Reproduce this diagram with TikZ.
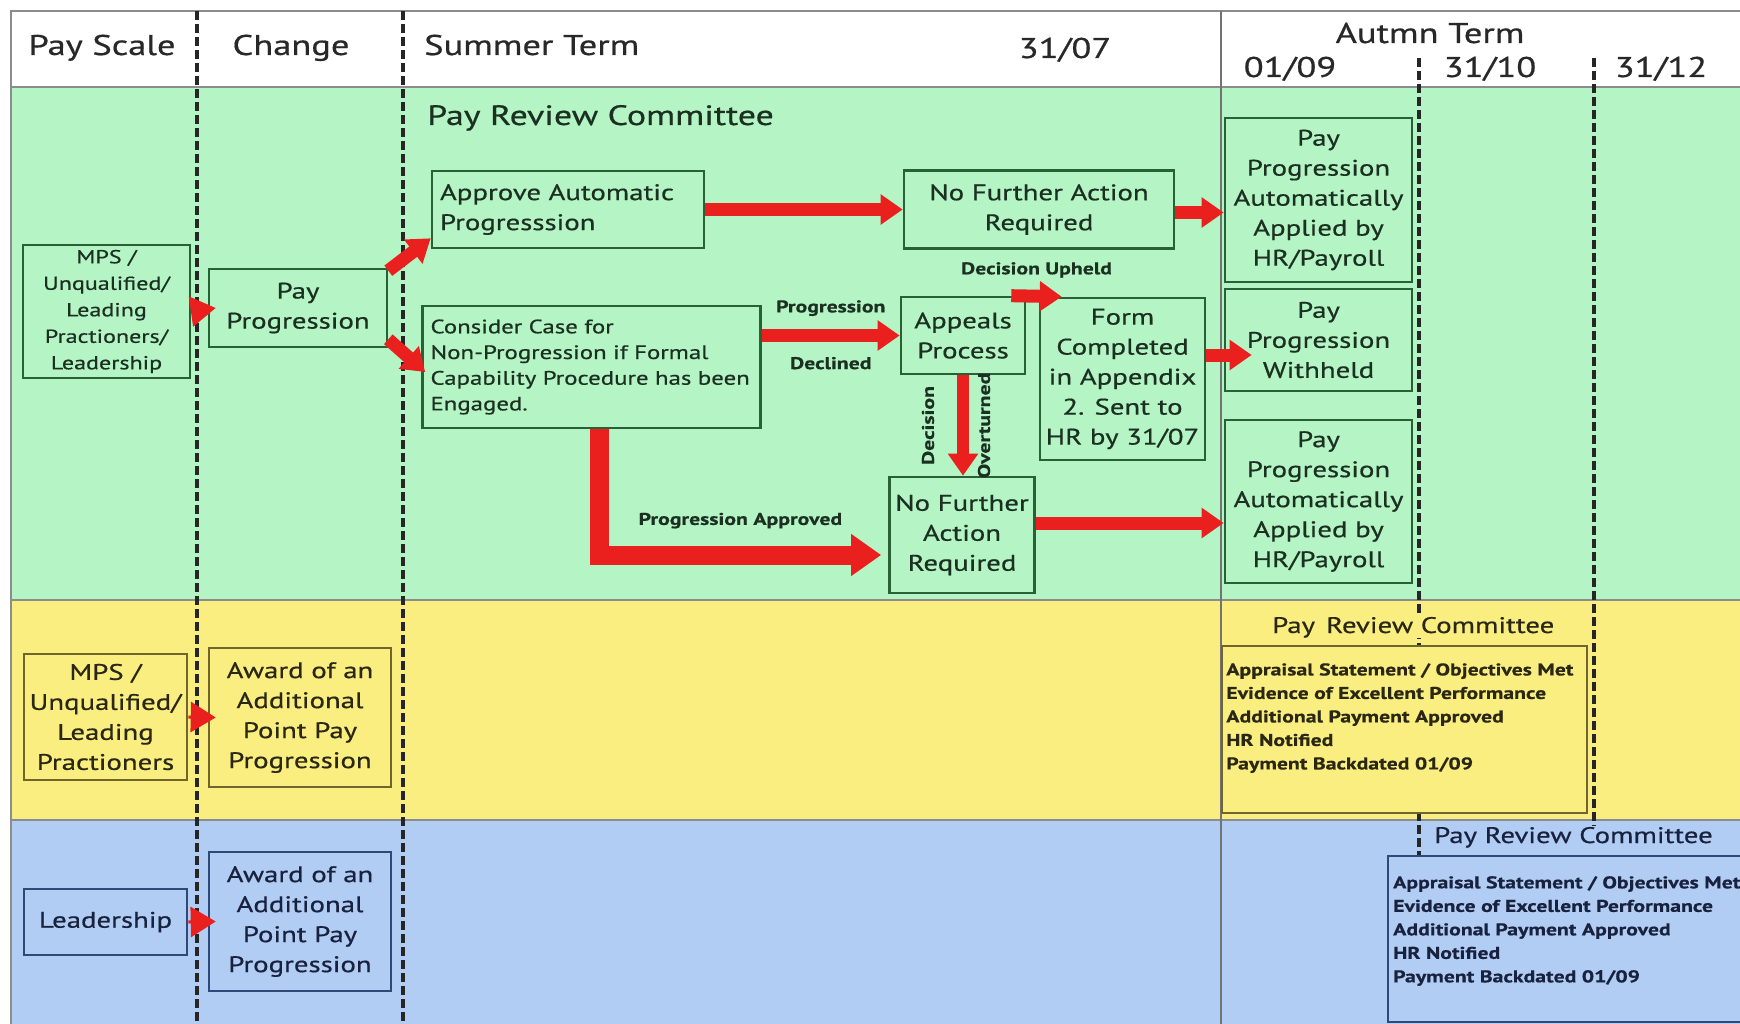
\documentclass[tikz,border=0pt]{standalone}
\usepackage{fontspec}
\setmainfont{PT Sans}[FakeStretch=1.28, FakeBold=0.6]
\usepackage{tikz}
\usetikzlibrary{arrows.meta}
\definecolor{greenband}{RGB}{181,245,197}
\definecolor{yellowband}{RGB}{250,238,128}
\definecolor{blueband}{RGB}{178,205,244}
\definecolor{greenline}{RGB}{40,96,56}
\definecolor{yellowline}{RGB}{112,102,44}
\definecolor{blueline}{RGB}{46,72,120}
\definecolor{greentext}{RGB}{28,48,34}
\definecolor{yellowtext}{RGB}{42,40,20}
\definecolor{bluetext}{RGB}{24,34,62}
\definecolor{headtext}{RGB}{40,40,40}
\definecolor{arrowred}{RGB}{234,32,30}
\newcommand{\headfont}{\fontsize{28.5}{32}\selectfont}
\newcommand{\boxfont}{\fontsize{22.5}{30}\selectfont}
\newcommand{\mpsfont}{\fontsize{18.8}{26.5}\selectfont}
\newcommand{\casefont}{\fontsize{19.4}{25.7}\selectfont}
\newcommand{\lblfont}{\bfseries\fontsize{17}{20}\selectfont}
\newcommand{\listfont}{\bfseries\fontsize{17}{23.5}\selectfont}
\newcommand{\prcfont}{\fontsize{28}{30}\selectfont}
\newcommand{\prcsmall}{\fontsize{22.5}{26}\selectfont}

\begin{document}
\begin{tikzpicture}[x=1pt,y=-1pt,
  gbox/.style={draw=greenline, line width=2.6pt, text=greentext, align=center, inner sep=0pt, font=\boxfont},
  ybox/.style={gbox, draw=yellowline, text=yellowtext},
  bbox/.style={gbox, draw=blueline, text=bluetext},
  headtxt/.style={font=\headfont, text=headtext, inner sep=0pt, anchor=base},
  lbl/.style={font=\lblfont, text=greentext, inner sep=0pt},
  divider/.style={draw=black!85, line width=3.5pt, dash pattern=on 9pt off 4pt},
  frameline/.style={draw=black!45, line width=2pt},
  bigarrow/.style={draw=arrowred, line width=13pt, -{Triangle[length=22pt,width=29pt]}},
  fatarrow/.style={draw=arrowred, line width=19pt, -{Triangle[length=30pt,width=40pt]}},
  tinyarrow/.style={draw=arrowred, line width=3pt, -{Triangle[length=25pt,width=30pt]}}]
	\useasboundingbox (0,0) rectangle (1740,1024);
	\fill[white] (0,0) rectangle (1740,1024);
	\fill[greenband] (11,87) rectangle (1740,600);
	\fill[yellowband] (11,600) rectangle (1740,820);
	\fill[blueband] (11,820) rectangle (1740,1024);
	\draw[frameline] (11,1024) -- (11,11) -- (1740,11);
	\draw[frameline] (11,87) -- (1740,87);
	\draw[frameline] (11,600) -- (1740,600);
	\draw[frameline] (11,820) -- (1740,820);
	\draw[draw=black!55, line width=1.5pt] (1221,11) -- (1221,1024);
	\draw[divider] (197,11) -- (197,1024);
	\draw[divider] (403,11) -- (403,1024);
	\draw[divider] (1419,58) -- (1419,862);
	\draw[divider] (1594,58) -- (1594,826);
	
	\node[headtxt] (payscale) at (102,55) {Pay Scale};
	\node[headtxt] (change) at (291,55) {Change};
	\node[headtxt, anchor=base west] (summer) at (424,55) {Summer Term};
	\node[headtxt] (julyend) at (1065,58) {31/07};
	\node[headtxt] (autumn) at (1430,43) {Autmn Term};
	\node[headtxt] (september) at (1290,77) {01/09};
	\node[headtxt] (october) at (1490,77) {31/10};
	\node[headtxt] (december) at (1661,77) {31/12};
	
	\node[anchor=base west, inner sep=0pt, font=\prcfont, text=greentext] (prcgreen) at (427,125) {Pay Review Committee};
	\node[gbox, font=\mpsfont, minimum width=167pt, minimum height=133pt] (mpsgreen) at (106.5,311.5) {MPS /\\Unqualified/\\Leading\\Practioners/\\Leadership};
	\node[gbox, minimum width=178pt, minimum height=78pt] (paygreen) at (298,308) {Pay\\Progression};
	\node[gbox, align=left, text width=256pt, inner xsep=8pt, minimum height=77pt] (approve) at (568,209.5) {Approve Automatic\\Progresssion};
	\node[gbox, font=\casefont, align=left, text width=322pt, inner xsep=8pt, minimum height=122pt] (consider) at (591.5,367) {Consider Case for\\Non-Progression if Formal\\\mbox{Capability Procedure has been}\\Engaged.};
	\node[gbox, minimum width=270pt, minimum height=78pt] (nfatop) at (1039,209.5) {No Further Action\\Required};
	\node[gbox, minimum width=124pt, minimum height=77pt] (appeals) at (963,335.5) {Appeals\\Process};
	\node[gbox, minimum width=165pt, minimum height=162pt] (form) at (1122.5,379) {Form\\Completed\\in Appendix\\2. Sent to\\HR by 31/07};
	\node[gbox, minimum width=145pt, minimum height=116pt] (nfalow) at (962,535) {No Further\\Action\\Required};
	\node[gbox, minimum width=187pt, minimum height=164pt] (autotop) at (1318.5,200) {Pay\\Progression\\Automatically\\Applied by\\HR/Payroll};
	\node[gbox, minimum width=187pt, minimum height=102pt] (withheld) at (1318.5,340) {Pay\\Progression\\Withheld};
	\node[gbox, minimum width=187pt, minimum height=163pt] (autolow) at (1318.5,501.5) {Pay\\Progression\\Automatically\\Applied by\\HR/Payroll};
	
	\node[ybox, minimum width=163pt, minimum height=126pt] (mpsyellow) at (105.5,717) {MPS /\\Unqualified/\\Leading\\Practioners};
	\node[ybox, minimum width=182pt, minimum height=139pt] (awardyellow) at (300,717.5) {Award of an\\Additional\\Point Pay\\Progression};
	\node[anchor=base west, inner sep=0pt, font=\prcsmall, text=yellowtext, fill=yellowband] (prcyellow) at (1272,633) {Pay\enspace Review Committee};
	\node[ybox, line width=1.8pt, fill=yellowband, minimum width=365pt, minimum height=167pt] (crityellow) at (1404.5,729.5) {};
	\node[anchor=north west, inner sep=0pt, align=left, font=\listfont, text=yellowtext] (listyellow) at ([xshift=5pt,yshift=-18pt]crityellow.north west) {Appraisal Statement / Objectives Met\\Evidence of Excellent Performance\\Additional Payment Approved\\HR Notified\\Payment Backdated 01/09};
	
	\node[bbox, minimum width=163pt, minimum height=66pt] (leadblue) at (105.5,922) {Leadership};
	\node[bbox, minimum width=182pt, minimum height=139pt] (awardblue) at (300,921.5) {Award of an\\Additional\\Point Pay\\Progression};
	\node[anchor=base west, inner sep=0pt, font=\prcsmall, text=bluetext, fill=blueband] (prcblue) at (1434,843) {Pay Review Committee};
	\node[bbox, line width=1.8pt, fill=blueband, minimum width=380pt, minimum height=166pt, anchor=north west] (critblue) at (1387,855) {};
	\node[anchor=north west, inner sep=0pt, align=left, font=\listfont, text=bluetext] (listblue) at ([xshift=6pt,yshift=-21pt]critblue.north west) {Appraisal Statement / Objectives Met\\Evidence of Excellent Performance\\Additional Payment Approved\\HR Notified\\Payment Backdated 01/09};
	
	\draw[tinyarrow] (mpsgreen.east) -- ([xshift=8pt]paygreen.west);
	\draw[tinyarrow] (mpsyellow.east) -- ([xshift=8pt]awardyellow.west);
	\draw[tinyarrow] (leadblue.east) -- ([xshift=8pt]awardblue.west);
	\draw[bigarrow] ([yshift=-3pt]paygreen.north east) -- ([yshift=11pt]approve.south west);
	\draw[bigarrow] ([yshift=9pt]paygreen.south east) -- ([xshift=4pt,yshift=-5pt]consider.west);
	\draw[bigarrow] (approve.east) -- (nfatop.west);
	\draw[bigarrow] ([yshift=-3pt]nfatop.east) -- ([yshift=-3pt]nfatop.east -| autotop.west);
	\draw[bigarrow] (consider.east |- appeals.west) -- node[lbl, above=13pt] {Progression} node[lbl, below=15pt] {Declined} (appeals.west);
	\draw[bigarrow] ([xshift=-15pt]appeals.north east) -- node[lbl, above=12pt] {Decision Upheld} ([xshift=23pt]form.north west);
	\draw[bigarrow, line width=12pt] (appeals.south) -- node[lbl, xshift=-35pt, rotate=90] {Decision} node[lbl, xshift=21pt, rotate=90] {Overturned} (appeals.south |- nfalow.north);
	\draw[fatarrow] ([xshift=8pt]consider.south) |- node[lbl, pos=0.75, above=17pt] {Progression Approved} ([xshift=-7pt,yshift=-20pt]nfalow.west);
	\draw[bigarrow] ([yshift=12pt]nfalow.east) -- ([yshift=12pt]nfalow.east -| autolow.west);
	\draw[bigarrow] ([yshift=24pt]form.east) -- ([xshift=28pt,yshift=-15pt]withheld.west);
	
\end{tikzpicture}
\end{document}
